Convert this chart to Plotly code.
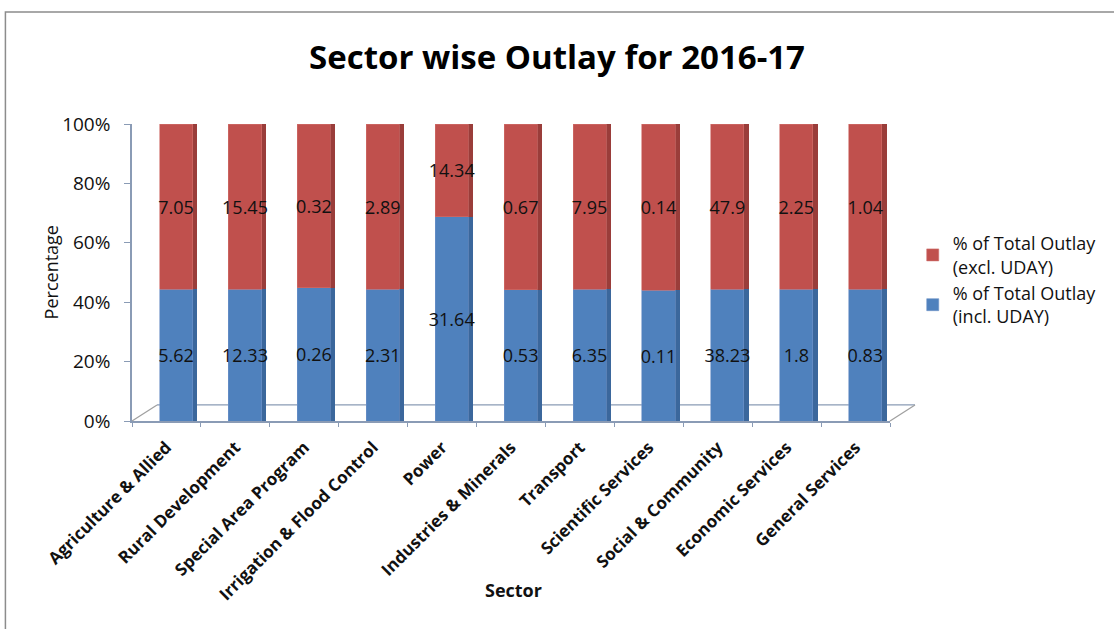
import plotly.graph_objects as go

sectors = [
    "Agriculture & Allied", "Rural Development", "Special Area Program",
    "Irrigation & Flood Control", "Power", "Industries & Minerals",
    "Transport", "Scientific Services", "Social & Community",
    "Economic Services", "General Services",
]
incl_uday = [5.62, 12.33, 0.26, 2.31, 31.64, 0.53, 6.35, 0.11, 38.23, 1.8, 0.83]
excl_uday = [7.05, 15.45, 0.32, 2.89, 14.34, 0.67, 7.95, 0.14, 47.9, 2.25, 1.04]
incl_text = ["5.62", "12.33", "0.26", "2.31", "31.64", "0.53", "6.35", "0.11", "38.23", "1.8", "0.83"]
excl_text = ["7.05", "15.45", "0.32", "2.89", "14.34", "0.67", "7.95", "0.14", "47.9", "2.25", "1.04"]

BLUE, BLUE_SIDE = "#4F81BD", "#3B679C"
RED, RED_SIDE = "#C0504D", "#9A3D3A"
FONT = "Open Sans"
TXT = "#111111"

fig = go.Figure()

# darker side faces, giving the columns some depth
for vals, col in [(incl_uday, BLUE_SIDE), (excl_uday, RED_SIDE)]:
    fig.add_trace(go.Bar(
        x=sectors, y=vals, marker=dict(color=col, line=dict(width=0)),
        width=0.07, offset=0.38, showlegend=False, hoverinfo="skip",
        offsetgroup="side",
    ))

# front faces with value labels
fig.add_trace(go.Bar(
    x=sectors, y=incl_uday, name="% of Total Outlay<br>(incl. UDAY)",
    marker=dict(color=BLUE, line=dict(width=0.6, color="#6F93C8")),
    width=0.48, offset=-0.10, offsetgroup="front",
    text=incl_text, textposition="inside", insidetextanchor="middle",
    constraintext="none", textangle=0,
    textfont=dict(family=FONT, size=18, color=TXT),
))
fig.add_trace(go.Bar(
    x=sectors, y=excl_uday, name="% of Total Outlay<br>(excl. UDAY)",
    marker=dict(color=RED, line=dict(width=0.6, color="#D06F6C")),
    width=0.48, offset=-0.10, offsetgroup="front",
    text=excl_text, textposition="inside", insidetextanchor="middle",
    constraintext="none", textangle=0,
    textfont=dict(family=FONT, size=18, color=TXT),
))

AXIS_COL = "#8A9BB5"
shapes = [
    # floor of the chart: back edge and the two slanted sides
    dict(type="line", xref="paper", yref="paper", x0=0.033, x1=1.033, y0=0.054, y1=0.054,
         line=dict(color=AXIS_COL, width=1.3), layer="below"),
    dict(type="line", xref="paper", yref="paper", x0=0.0, x1=0.033, y0=0.0, y1=0.054,
         line=dict(color="#A0A0A0", width=1.3), layer="below"),
    dict(type="line", xref="paper", yref="paper", x0=1.0, x1=1.033, y0=0.0, y1=0.054,
         line=dict(color="#A0A0A0", width=1.3), layer="below"),
    # outer chart frame
    dict(type="rect", xref="paper", yref="paper", x0=-0.167, x1=1.32, y0=-0.75, y1=1.377,
         line=dict(color="#8C8C8C", width=1.5), fillcolor="rgba(0,0,0,0)", layer="below"),
]

fig.update_layout(
    width=1114, height=629,
    margin=dict(l=132, r=221, t=124, b=208),
    paper_bgcolor="white", plot_bgcolor="white",
    barmode="stack", barnorm="percent",
    title=dict(text="<b>Sector wise Outlay for 2016-17</b>", x=0.5, xref="container",
               xanchor="center", y=0.909, yanchor="middle",
               font=dict(family=FONT, size=33, color="black")),
    font=dict(family=FONT, color="black"),
    showlegend=True,
    legend=dict(x=1.03, y=0.66, xanchor="left", yanchor="top",
                font=dict(family=FONT, size=18, color=TXT),
                bgcolor="rgba(0,0,0,0)", tracegroupgap=7, itemwidth=30),
    shapes=shapes,
    annotations=[
        dict(text="<b>Sector</b>", xref="paper", yref="paper", x=0.503, y=-0.569,
             xanchor="center", yanchor="middle", showarrow=False,
             font=dict(family=FONT, size=18, color=TXT)),
        dict(text="Percentage", xref="paper", yref="paper", x=-0.107, y=0.5,
             xanchor="center", yanchor="middle", showarrow=False, textangle=-90,
             font=dict(family=FONT, size=18, color=TXT)),
    ],
    xaxis=dict(
        automargin=False,
        tickangle=-45, tickfont=dict(family=FONT, size=17, color=TXT, weight="bold"),
        showline=True, linecolor=AXIS_COL, linewidth=1.5,
        ticks="outside", ticklen=4, tickcolor=AXIS_COL, tickson="boundaries",
        ticklabelstandoff=8,
        showgrid=False,
    ),
    yaxis=dict(
        automargin=False,
        range=[0, 100], tickvals=[0, 20, 40, 60, 80, 100],
        ticktext=["0%", "20%", "40%", "60%", "80%", "100%"],
        tickfont=dict(family=FONT, size=19, color=TXT),
        showline=True, linecolor=AXIS_COL, linewidth=1.5,
        ticks="outside", ticklen=6, tickcolor=AXIS_COL,
        ticklabelstandoff=10,
        showgrid=False, zeroline=False,
    ),
)

fig.write_html("out.html")
